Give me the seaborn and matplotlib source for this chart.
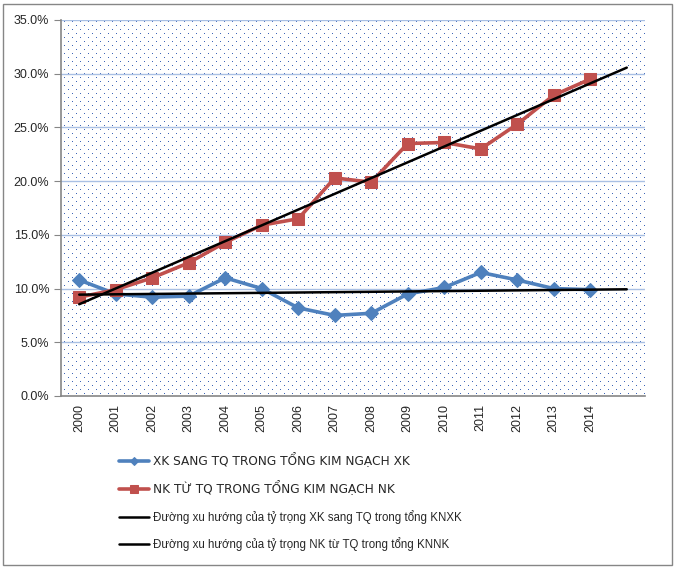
import numpy as np
import pandas as pd
import matplotlib
matplotlib.use("Agg")
import matplotlib.pyplot as plt
import seaborn as sns
from matplotlib.patches import Rectangle
from matplotlib.ticker import FuncFormatter, MultipleLocator

# Data (share of trade with China, %)
years = ["2000", "2001", "2002", "2003", "2004", "2005", "2006", "2007",
         "2008", "2009", "2010", "2011", "2012", "2013", "2014"]
xk_share = [10.8, 9.5, 9.2, 9.3, 11.0, 10.0, 8.2, 7.5, 7.7, 9.5, 10.1, 11.5, 10.8, 10.0, 9.9]
nk_share = [9.2, 9.9, 11.0, 12.4, 14.3, 15.9, 16.5, 20.3, 19.9, 23.5, 23.6, 23.0, 25.3, 28.0, 29.5]

labels = ["XK SANG TQ TRONG TỔNG KIM NGẠCH XK",
          "NK TỪ TQ TRONG TỔNG KIM NGẠCH NK",
          "Đường xu hướng của tỷ trọng XK sang TQ trong tổng KNXK",
          "Đường xu hướng của tỷ trọng NK từ TQ trong tổng KNNK"]

sns.set_style("white")
plt.rcParams["font.family"] = ["Liberation Sans", "DejaVu Sans"]

df = pd.DataFrame({"idx": np.arange(len(years)), "xk": xk_share, "nk": nk_share})

W, H = 677, 568
ax_w, ax_h = 584, 376
fig = plt.figure(figsize=(W / 100, H / 100), dpi=100)
ax = fig.add_axes([61 / W, 172 / H, ax_w / W, ax_h / H])

# dotted pattern fill of the plot area (Excel-style 1px dots, staggered)
pattern = np.ones((ax_h, ax_w, 3))
rows, cols = np.mgrid[0:ax_h, 0:ax_w]
dots = (rows % 4 == 1) & ((cols - 4 * ((rows // 4) % 2)) % 8 == 3)
pattern[dots] = np.array([62, 102, 184]) / 255
ax.imshow(pattern, extent=(0, 1, 0, 1), transform=ax.transAxes, aspect="auto",
          interpolation="nearest", zorder=0)

for y in np.arange(5, 36, 5):
    ax.axhline(y, color="#a9c0e4", linewidth=1, zorder=1)

# trend lines (linear fit, forecast forward 1 period)
x = df["idx"].values
trend_x = np.arange(len(years) + 1)
cx = np.polyfit(x, df["xk"], 1)
cn = np.polyfit(x, df["nk"], 1)

sns.lineplot(x=x, y=df["xk"], ax=ax, color="#4f81bd", marker="D", markersize=7,
             markeredgecolor="#4f81bd", linewidth=2.6, label=labels[0], zorder=3)
sns.lineplot(x=x, y=df["nk"], ax=ax, color="#c0504d", marker="s", markersize=9,
             markeredgecolor="#c0504d", linewidth=2.6, label=labels[1], zorder=3)
sns.lineplot(x=trend_x, y=np.polyval(cx, trend_x), ax=ax, color="black",
             linewidth=1.8, label=labels[2], zorder=4)
sns.lineplot(x=trend_x, y=np.polyval(cn, trend_x), ax=ax, color="black",
             linewidth=1.8, label=labels[3], zorder=4)

ax.set_xlim(-0.5, len(years) + 0.5)
ax.set_ylim(0, 35)
ax.yaxis.set_major_locator(MultipleLocator(5))
ax.yaxis.set_major_formatter(FuncFormatter(lambda v, p: f"{v:.1f}%"))
ax.set_xticks(np.arange(len(years)))
ax.set_xticklabels(years, rotation=90)
ax.set_xticks(np.arange(-0.5, len(years) + 1, 1), minor=True)
ax.tick_params(axis="x", which="major", length=0, labelsize=9, pad=6)
ax.tick_params(axis="x", which="minor", length=5, color="#868686", direction="out")
ax.tick_params(axis="y", length=5, color="#868686", direction="out", labelsize=9, left=True)
ax.set_xlabel("")
ax.set_ylabel("")
for s in ["top", "right"]:
    ax.spines[s].set_visible(False)
for s in ["left", "bottom"]:
    ax.spines[s].set_color("#868686")
    ax.spines[s].set_linewidth(1.2)
    ax.spines[s].set_zorder(5)

ax.get_legend().remove()
handles, labs = ax.get_legend_handles_labels()
leg = fig.legend(handles, labs, loc="upper left", bbox_to_anchor=(0.168, 0.212),
                 frameon=False, fontsize=8.3, labelspacing=1.15, handlelength=2.6,
                 handletextpad=0.3, borderpad=0, markerscale=0.6)
for t in leg.get_texts()[:2]:
    t.set_family(["DejaVu Sans"])
    t.set_fontsize(8.7)

# chart border
fig.patches.append(Rectangle((0.005, 0.005), 0.988, 0.988, transform=fig.transFigure,
                             fill=False, edgecolor="#868686", linewidth=1))

fig.savefig("out.png", dpi=100)
